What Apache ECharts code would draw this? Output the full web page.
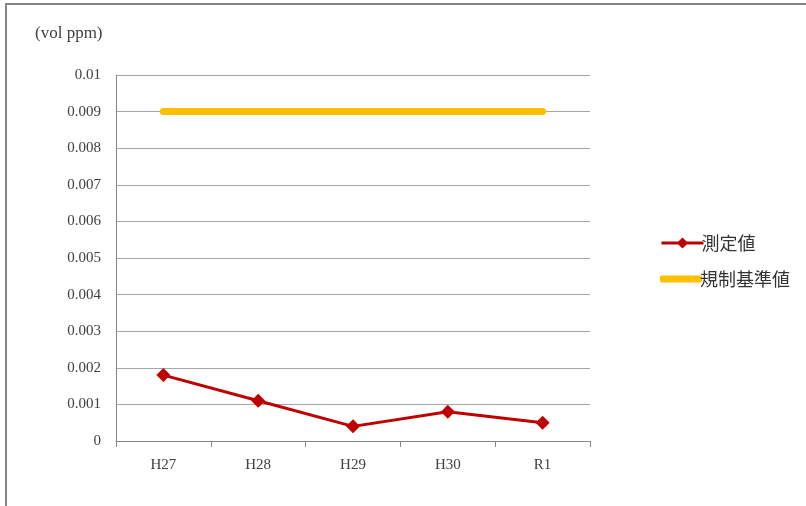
<!DOCTYPE html>
<html>
<head>
<meta charset="utf-8">
<script src="https://cdn.jsdelivr.net/npm/echarts@6/dist/echarts.min.js"></script>
<style>
  html, body { margin: 0; padding: 0; background: #fff; }
  #chart { width: 806px; height: 506px; }
</style>
</head>
<body>
<div id="chart"></div>
<script>
const years = ['H27', 'H28', 'H29', 'H30', 'R1'];
const measured = [0.0018, 0.0011, 0.0004, 0.0008, 0.0005];
const standard = [0.009, 0.009, 0.009, 0.009, 0.009];

const serif = '"Liberation Serif", "DejaVu Serif", serif';
const jp = '"Noto Sans CJK JP", sans-serif';
const legendText = { fontFamily: jp, fontSize: 18, color: '#333', padding: [0, 0, 0, -7] };

const chart = echarts.init(document.getElementById('chart'));
chart.setOption({
  animation: false,
  graphic: [
    {
      type: 'rect',
      shape: { x: 6, y: 4, width: 830, height: 540 },
      style: { fill: 'none', stroke: '#868686', lineWidth: 2 },
      silent: true
    },
    {
      type: 'text',
      left: 35,
      top: 25,
      style: { text: '(vol ppm)', font: '17px ' + serif, fill: '#404040' }
    }
  ],
  grid: { left: 116, top: 75, width: 474, height: 366, containLabel: false },
  legend: [
    {
      left: 655,
      top: 229,
      itemWidth: 42,
      itemHeight: 14,
      textStyle: legendText,
      data: [{ name: '測定値', lineStyle: { width: 3 } }]
    },
    {
      left: 655,
      top: 265,
      itemWidth: 42,
      itemHeight: 7,
      textStyle: legendText,
      data: [{ name: '規制基準値', icon: 'roundRect', itemStyle: { color: '#FFC000', borderRadius: 4 } }]
    }
  ],
  xAxis: {
    type: 'category',
    data: years,
    boundaryGap: true,
    axisLine: { lineStyle: { color: '#868686', width: 1 } },
    axisTick: { show: true, length: 6, lineStyle: { color: '#868686' } },
    axisLabel: { fontFamily: serif, fontSize: 15, color: '#404040', margin: 17 }
  },
  yAxis: {
    type: 'value',
    min: 0,
    max: 0.01,
    interval: 0.001,
    axisLine: { show: true, lineStyle: { color: '#868686' } },
    axisTick: { show: false },
    axisLabel: {
      fontFamily: serif, fontSize: 15, color: '#404040', margin: 15,
      formatter: v => v === 0 ? '0' : String(+v.toFixed(3))
    },
    splitLine: { lineStyle: { color: '#a6a6a6', width: 1 } }
  },
  series: [
    {
      name: '測定値',
      type: 'line',
      data: measured,
      symbol: 'diamond',
      symbolSize: 14,
      lineStyle: { color: '#C00000', width: 3 },
      itemStyle: { color: '#C00000' },
      z: 3
    },
    {
      name: '規制基準値',
      type: 'line',
      data: standard,
      symbol: 'none',
      lineStyle: { color: '#FFC000', width: 7, cap: 'round' },
      itemStyle: { color: '#FFC000' },
      z: 2
    }
  ]
});
</script>
</body>
</html>
